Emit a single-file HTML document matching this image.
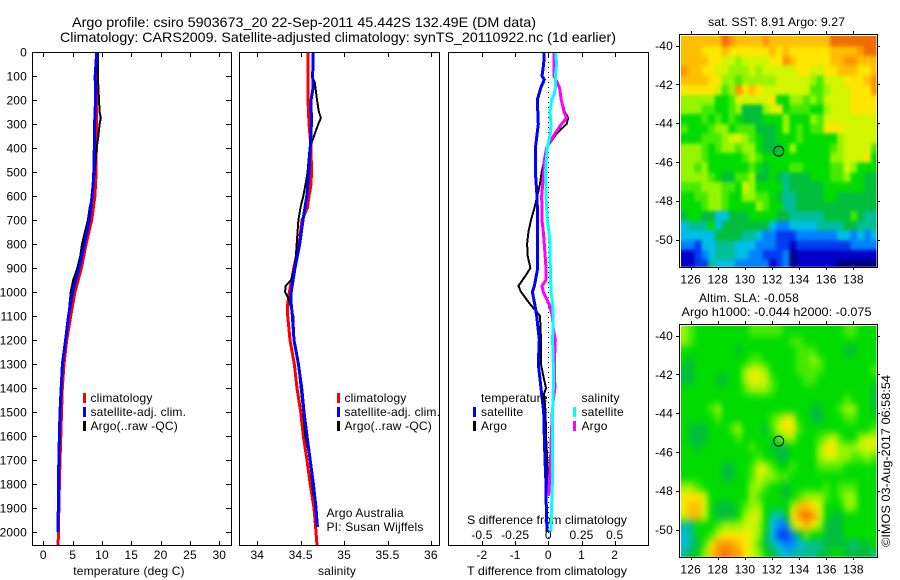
<!DOCTYPE html>
<html lang="en">
<head>
<meta charset="utf-8">
<title>Argo profile 5903673_20</title>
<style>
html,body{margin:0;padding:0;background:#fff;width:900px;height:580px;overflow:hidden}
svg{display:block}
text{font-family:"Liberation Sans",Arial,sans-serif;font-size:12px;fill:#000;letter-spacing:.18px}
.t{font-size:14px;letter-spacing:0}
.n{letter-spacing:0}
</style>
</head>
<body>
<svg id="fig" xmlns="http://www.w3.org/2000/svg" width="900" height="580" viewBox="0 0 900 580">
  <defs>
    <filter id="blur-sst" filterUnits="userSpaceOnUse" x="620" y="0" width="280" height="320" color-interpolation-filters="sRGB"><feGaussianBlur stdDeviation="1.5 1.8"/></filter>
    <filter id="blur-sla" filterUnits="userSpaceOnUse" x="620" y="280" width="280" height="300" color-interpolation-filters="sRGB"><feGaussianBlur stdDeviation="3 4"/></filter>
  </defs>
  <rect x="0" y="0" width="900" height="580" fill="#fff"/>
  <text class="t" x="72" y="27" textLength="464" lengthAdjust="spacingAndGlyphs">Argo profile: csiro 5903673_20 22-Sep-2011 45.442S 132.49E (DM data)</text>
  <text class="t" x="60" y="42" textLength="556" lengthAdjust="spacingAndGlyphs">Climatology: CARS2009. Satellite-adjusted climatology: synTS_20110922.nc (1d earlier)</text>

  <text x="129" y="575" text-anchor="middle">temperature (deg C)</text>
  <text x="337" y="575" text-anchor="middle">salinity</text>
  <text class="n" x="467" y="575" textLength="160" lengthAdjust="spacingAndGlyphs">T difference from climatology</text>
  <text class="n" x="467" y="524" textLength="160" lengthAdjust="spacingAndGlyphs">S difference from climatology</text>

  <g>
    <rect x="83" y="393" width="3" height="10" fill="#f00"/>
    <text x="90.5" y="402">climatology</text>
    <rect x="83" y="407" width="3" height="10" fill="#00f"/>
    <text x="90.5" y="416">satellite-adj. clim.</text>
    <rect x="83" y="421" width="3" height="10" fill="#000"/>
    <text x="90.5" y="430">Argo(..raw -QC)</text>
  </g>
  <g>
    <rect x="337" y="393" width="3" height="10" fill="#f00"/>
    <text x="344.5" y="402">climatology</text>
    <rect x="337" y="407" width="3" height="10" fill="#00f"/>
    <text x="344.5" y="416">satellite-adj. clim.</text>
    <rect x="337" y="421" width="3" height="10" fill="#000"/>
    <text x="344.5" y="430">Argo(..raw -QC)</text>
  </g>
  <text x="326.5" y="517">Argo Australia</text>
  <text x="326.5" y="531">PI: Susan Wijffels</text>

  <text class="n" x="708" y="26" textLength="137" lengthAdjust="spacingAndGlyphs">sat. SST: 8.91  Argo: 9.27</text>
  <text x="699" y="302">Altim. SLA: -0.058</text>
  <text class="n" x="681.5" y="316" textLength="190" lengthAdjust="spacingAndGlyphs">Argo h1000: -0.044  h2000: -0.075</text>
  <text class="n" transform="translate(890,547) rotate(-90)" textLength="172" lengthAdjust="spacingAndGlyphs">©IMOS 03-Aug-2017 06:58:54</text>
</svg>
<script>
// ---------- depth axis ----------
var depthTicks = [0,100,200,300,400,500,600,700,800,900,1000,1100,1200,1300,1400,1500,1600,1700,1800,1900,2000];

// ---------- temperature panel ----------
var tempTicks = [0,5,10,15,20,25,30];
var climTempDepth = [0,200,500,600,700,800,900,1000,1100,1200,1300,1400,1500,1600,1700,1800,1900,2000,2055];
var climTemp = [9.1,9.1,9.0,8.8,8.25,7.3,6.5,5.4,4.67,3.98,3.53,3.24,3.1,2.98,2.85,2.75,2.65,2.6,2.5];
var satTempDepth = [0,100,200,300,400,500,550,600,650,700,800,900,1000,1100,1200,1300,1400,1500,1600,1700,1800,1900,2000];
var satTemp = [9.1,8.85,8.9,8.75,8.7,8.6,8.5,8.3,8.1,7.85,7.0,6.1,5.0,4.3,3.8,3.25,3.05,2.85,2.75,2.65,2.6,2.55,2.5];
var argoTempDepth = [0,100,150,200,250,275,300,350,400,500,600,650,700,800,850,900,950,1000,1100,1200,1300,1400,1500,1600,1700,1750];
var argoTemp = [9.3,9.3,9.4,9.5,9.6,9.8,9.6,9.4,9.1,8.75,8.35,7.9,7.6,6.6,6.3,5.8,5.1,4.67,4.3,3.8,3.25,3.05,2.9,2.85,2.75,2.7];

// ---------- salinity panel ----------
var salTicks = [34,34.5,35,35.5,36];
var climSalDepth = [0,200,300,400,500,550,600,650,700,800,900,1000,1050,1100,1200,1300,1400,1500,1600,1700,1800,1900,2000,2055];
var climSal = [34.584,34.584,34.596,34.62,34.623,34.62,34.596,34.576,34.515,34.48,34.42,34.37,34.35,34.35,34.377,34.426,34.457,34.5,34.53,34.573,34.61,34.653,34.676,34.688];
var satSalDepth = [0,100,150,200,300,400,500,600,700,800,900,1000,1050,1100,1200,1300,1400,1500,1600,1700,1800,1900,1980];
var satSal = [34.642,34.638,34.642,34.62,34.623,34.61,34.596,34.57,34.527,34.488,34.434,34.39,34.39,34.404,34.423,34.473,34.511,34.538,34.573,34.61,34.646,34.676,34.692];
var argoSalDepth = [0,100,130,200,250,275,300,340,370,400,500,550,600,650,700,800,850,900,950,975,1000,1025,1100,1200,1300,1400,1500,1600,1700,1800,1850];
var argoSal = [34.634,34.634,34.664,34.688,34.71,34.733,34.703,34.664,34.634,34.603,34.58,34.557,34.53,34.497,34.473,34.454,34.445,34.426,34.39,34.326,34.32,34.357,34.415,34.426,34.473,34.5,34.53,34.553,34.61,34.633,34.645];

// ---------- difference panel ----------
var tDiffTicks = [-2,-1,0,1,2];
var sDiffTicks = [-0.5,-0.25,0,0.25,0.5];
var sDiffTickLabels = ["-0.5","-0.25","0","0.25","0.5"];
var satTDiffDepth = [0,50,100,115,150,200,300,400,500,600,700,800,900,975,1000,1050,1100,1200,1300,1400,1450,1500,1600,1700,1800,1900,2000];
var satTDiff = [-.13,-.14,-.19,-.12,-.23,-.33,-.30,-.39,-.39,-.34,-.32,-.32,-.32,-.42,-.48,-.41,-.35,-.27,-.30,-.22,-.18,-.14,-.12,-.10,-.07,-.06,-.04];
var argoTDiffDepth = [0,100,130,150,200,250,275,300,340,400,450,500,550,600,650,700,750,800,850,900,925,975,1000,1050,1075,1100,1200,1300,1350,1400,1425,1500,1600,1700,1800,1850];
var argoTDiff = [.17,.17,.28,.34,.40,.50,.60,.55,.25,-.05,-.12,-.20,-.25,-.33,-.42,-.52,-.60,-.64,-.62,-.54,-.65,-.90,-.82,-.55,-.40,-.25,-.22,-.22,-.15,-.07,-.13,-.08,-.07,-.03,0,.01];
var argoSDiffDepth = [0,100,130,150,200,250,275,300,340,400,450,500,600,700,750,800,900,950,975,1000,1050,1100,1150,1200,1300,1400,1450,1500,1600,1700,1800,1850];
var argoSDiff = [.0425,.0425,.07,.085,.098,.118,.138,.10,.05,-.0125,-.03,-.035,-.05,-.0475,-.0375,-.03,-.0175,-.0175,-.0475,-.0375,.005,.03,.0375,.0525,.045,.05,.0375,.03,.0225,.0175,.0075,.0025];
var satSDiffDepth = [0,50,100,150,175,200,250,300,340,400,450,500,600,700,750,800,900,1000,1050,1100,1200,1300,1400,1500,1600,1700,1800,1900,2000];
var satSDiff = [.055,.0625,.0525,.0525,.045,.025,.0125,.02,.015,-.0075,-.015,-.02,-.0175,-.0075,.005,.0125,.015,.02,.0325,.0375,.0325,.0375,.0375,.0325,.03,.0325,.03,.025,.02];

// ---------- maps (colour level per 0.5 degree cell, top row first) ----------
var lonTicks = [126,128,130,132,134,136,138];
var latTicks = [-40,-42,-44,-46,-48,-50];
var argoLon = 132.49;
var argoLat = -45.442;
var sstLevels = [
[12,12,12,12,12,12,14,13,12,12,12,12,13,12,12,12,12,12,12,12,12,12,14,14,14,14,14,14,14],
[12,12,12,11,11,11,12,11,11,11,11,11,11,12,11,12,11,11,11,11,11,11,12,12,12,12,13,14,14],
[12,12,12,12,11,11,10,10,9,10,10,10,10,11,11,13,12,11,11,11,11,11,12,12,13,13,12,12,12],
[13,12,12,11,11,10,10,9,9,9,10,9,10,10,10,10,10,11,11,10,10,11,11,12,12,12,11,11,12],
[12,12,12,12,11,11,9,9,8,9,9,9,9,9,10,10,10,10,10,9,8,10,10,10,11,11,11,12,13],
[11,11,11,11,11,10,8,9,13,11,12,11,10,10,10,10,10,10,10,8,8,9,10,10,10,11,11,11,13],
[9,9,9,9,9,7,7,8,10,10,10,10,10,11,7,7,9,9,8,9,8,10,10,10,10,11,11,11,11],
[9,9,9,8,8,7,7,8,9,6,6,6,9,10,11,7,8,8,8,7,7,9,10,10,10,11,11,11,11],
[7,7,7,8,7,8,7,8,7,6,6,6,7,7,7,9,7,7,7,9,8,10,10,10,10,10,10,10,10],
[8,7,7,7,8,9,9,7,8,8,8,6,6,6,7,9,7,8,7,8,8,11,11,11,10,10,10,10,10],
[7,7,7,8,8,8,9,10,10,9,8,7,6,6,7,7,7,8,7,7,7,7,7,9,10,10,10,10,10],
[9,9,9,8,7,8,9,9,8,9,9,7,6,6,6,7,9,7,7,7,7,7,8,9,10,10,10,10,8],
[9,9,9,8,7,7,7,7,7,8,9,8,7,7,7,7,7,7,7,7,7,7,9,9,10,10,10,11,7],
[9,9,8,9,7,7,7,7,7,7,8,7,6,7,7,7,8,8,7,7,7,7,8,8,10,9,7,7,7],
[9,9,9,9,8,7,6,6,8,8,9,6,6,7,6,5,6,6,6,7,7,7,8,8,9,7,7,6,6],
[8,8,8,9,9,9,8,8,7,10,9,7,7,7,7,5,6,6,6,6,6,7,7,7,7,7,7,6,6],
[7,7,8,8,9,9,8,7,7,9,9,8,8,7,6,5,5,6,6,6,6,7,7,6,6,6,6,6,6],
[7,7,7,8,9,9,8,7,7,7,7,9,8,7,7,5,5,6,6,6,6,6,6,6,6,6,6,6,6],
[6,7,7,6,6,4,4,6,6,6,7,7,7,7,6,6,5,5,5,5,5,6,6,6,6,8,6,5,5],
[4,5,5,5,7,4,6,6,6,6,6,6,6,4,3,3,4,4,4,4,5,5,5,5,6,6,5,5,5],
[4,4,4,4,4,6,6,6,6,5,5,4,3,3,2,2,2,3,3,3,3,3,3,4,4,3,4,3,4],
[3,3,2,4,4,5,5,5,4,4,4,3,3,3,2,2,1,2,2,2,2,2,2,2,2,3,3,3,3],
[1,1,2,3,4,5,5,5,4,4,3,3,2,2,2,3,0,1,1,1,1,1,1,1,1,1,1,1,1],
[1,1,2,2,5,4,4,4,3,3,3,3,3,1,2,3,0,1,1,1,1,1,1,0,0,0,0,0,0]
];
var slaLevels = [
[9,8,7,7,7,7,7,7,7,7,8,8,8,8,8,7,7,7,7,7,7,7,7,7,8,8,7,7,7],
[9,8,7,7,7,7,7,7,7,7,7,7,7,7,7,7,8,8,7,7,7,7,7,7,7,7,7,7,7],
[7,7,7,7,7,7,7,7,6,7,7,7,7,7,7,7,7,8,8,8,7,7,7,7,6,6,7,7,7],
[7,6,7,7,7,7,7,7,7,7,8,8,7,7,7,7,7,8,8,9,8,7,7,7,7,7,7,7,7],
[6,6,7,7,7,7,7,7,7,9,10,10,9,7,7,7,7,8,8,8,8,7,7,7,7,7,7,7,8],
[6,6,7,7,7,6,6,7,7,9,11,10,10,8,7,7,7,7,8,8,7,7,7,7,7,7,7,7,7],
[7,7,7,7,7,7,7,7,7,8,9,9,9,8,7,7,7,7,7,7,7,7,7,7,7,7,7,7,6],
[7,7,7,7,7,7,7,7,7,7,7,7,7,7,7,7,7,7,7,7,7,7,7,7,8,7,7,7,6],
[7,7,7,7,8,9,7,7,7,7,7,7,7,7,7,7,7,7,7,6,6,7,7,8,9,9,7,7,6],
[7,7,7,7,7,8,7,7,7,7,7,7,7,8,9,11,10,7,7,6,6,7,7,7,8,8,7,7,7],
[7,6,6,6,7,7,7,8,9,7,7,7,6,8,10,11,11,8,7,7,7,7,7,7,7,7,7,7,8],
[7,6,6,6,7,7,7,7,8,7,7,7,7,7,8,9,9,7,7,7,8,9,10,8,7,7,9,10,10],
[7,7,6,7,7,7,7,7,7,7,8,7,7,6,6,6,7,7,7,7,9,11,11,9,9,9,10,10,10],
[7,7,7,7,7,7,7,7,7,7,7,8,7,7,6,6,7,7,7,7,9,10,10,9,9,8,8,9,8],
[7,7,7,7,7,7,6,6,7,7,8,10,10,8,7,7,8,7,7,7,8,8,8,8,7,7,7,7,7],
[7,7,7,7,7,7,6,6,7,7,8,10,9,9,8,8,7,7,7,7,7,7,7,7,7,7,7,7,7],
[9,9,8,7,7,7,7,7,7,7,9,9,8,7,7,6,7,7,7,7,7,8,7,8,8,8,7,7,7],
[11,11,11,10,7,7,7,7,7,7,9,8,7,7,7,6,7,8,9,9,9,8,7,8,9,9,7,7,7],
[11,12,12,10,7,6,6,6,7,8,9,9,7,7,7,7,9,12,12,11,10,7,7,7,9,9,7,7,7],
[10,12,12,10,7,6,6,6,7,9,10,10,7,5,4,6,11,13,14,13,10,7,6,6,7,7,7,7,7],
[5,5,7,7,7,8,9,9,9,10,10,9,7,4,3,3,9,11,12,11,9,6,6,6,7,7,7,7,7],
[4,5,7,7,8,10,11,11,11,11,10,9,6,4,2,2,3,6,8,7,7,6,6,6,7,7,7,7,7],
[4,5,6,8,11,13,13,13,12,11,10,8,6,5,4,3,3,4,5,5,5,6,6,6,6,5,6,6,7],
[5,6,7,9,12,13,14,13,13,11,10,9,7,6,5,4,5,5,5,5,6,6,7,7,6,6,6,6,5]
];

// ---------- rendering ----------
var SVGNS = "http://www.w3.org/2000/svg";
var fig = document.getElementById("fig");
function make(tag, parent) {
  var el = document.createElementNS(SVGNS, tag);
  parent.appendChild(el);
  return el;
}
function line(parent, x1, y1, x2, y2, name) {
  var el = make("rect", parent);
  var left = Math.round(Math.min(x1, x2));
  var top = Math.round(Math.min(y1, y2));
  el.setAttribute("x", left);
  el.setAttribute("y", top);
  el.setAttribute("width", Math.max(1, Math.round(Math.abs(x2 - x1))));
  el.setAttribute("height", Math.max(1, Math.round(Math.abs(y2 - y1))));
  el.setAttribute("fill", "#000");
  
  
  return el;
}
function label(parent, x, y, str, anchor, name) {
  var el = make("text", parent);
  el.setAttribute("x", x);
  el.setAttribute("y", y);
  el.setAttribute("text-anchor", anchor);
  el.textContent = str;
  
  
  return el;
}
function box(parent, x0, y0, x1, y1, name) {
  var r = make("rect", parent);
  r.setAttribute("x", x0 + 0.5);
  r.setAttribute("y", y0 + 0.5);
  r.setAttribute("width", x1 - x0);
  r.setAttribute("height", y1 - y0);
  r.setAttribute("fill", "none");
  r.setAttribute("stroke", "#000");
  r.setAttribute("stroke-width", "1");
  r.setAttribute("shape-rendering", "crispEdges");
  
  
}
function depthY(d) { return 52 + 0.24 * d; }
function series(parent, depths, values, xFn, color, width, name) {
  var pts = [];
  for (var i = 0; i < depths.length; i++) {
    pts.push(xFn(values[i]).toFixed(1) + "," + depthY(depths[i]).toFixed(1));
  }
  var p = make("polyline", parent);
  p.setAttribute("points", pts.join(" "));
  p.setAttribute("fill", "none");
  p.setAttribute("stroke", color);
  p.setAttribute("stroke-width", width);
  p.setAttribute("stroke-linejoin", "miter");
  p.setAttribute("shape-rendering", "crispEdges");
  
  
}
var PT = 52, PB = 545;

// temperature panel
var tempX = function (v) { return 43.3 + v * 5.867; };
var g1 = make("g", fig);


series(g1, climTempDepth, climTemp, tempX, "#f00", 3, "temperature-climatology-line");
series(g1, argoTempDepth, argoTemp, tempX, "#000", 2, "temperature-argo-line");
series(g1, satTempDepth, satTemp, tempX, "#00f", 3, "temperature-satellite-line");
box(g1, 32, PT, 231, PB, "temperature-plot-frame");
tempTicks.forEach(function (t) {
  var x = tempX(t);
  line(g1, x, PT, x, PT + 5, "temperature-top-tick");
  line(g1, x, PB - 4, x, PB, "temperature-bottom-tick");
  label(g1, x, 559, String(t), "middle", "temperature-tick-label");
});
depthTicks.forEach(function (d) {
  var y = depthY(d);
  line(g1, 32, y, 37, y, "depth-left-tick");
  line(g1, 226, y, 231, y, "depth-right-tick");
  label(g1, 27, y + 4.5, String(d), "end", "depth-tick-label");
});

// salinity panel
var salX = function (v) { return 257.3 + (v - 34) * 86.8; };
var g2 = make("g", fig);


series(g2, climSalDepth, climSal, salX, "#f00", 3, "salinity-climatology-line");
series(g2, argoSalDepth, argoSal, salX, "#000", 2, "salinity-argo-line");
series(g2, satSalDepth, satSal, salX, "#00f", 3, "salinity-satellite-line");
box(g2, 239, PT, 439, PB, "salinity-plot-frame");
salTicks.forEach(function (t) {
  var x = salX(t);
  line(g2, x, PT, x, PT + 5, "salinity-top-tick");
  line(g2, x, PB - 4, x, PB, "salinity-bottom-tick");
  label(g2, x, 559, String(t), "middle", "salinity-tick-label");
});

// difference panel
var tDiffX = function (v) { return 548.3 + v * 33.2; };
var sDiffX = function (v) { return 548.3 + v * 132.8; };
var g3 = make("g", fig);


var zero = make("line", g3);
zero.setAttribute("x1", tDiffX(0));
zero.setAttribute("x2", tDiffX(0));
zero.setAttribute("y1", PT);
zero.setAttribute("y2", PB);
zero.setAttribute("stroke", "#000");
zero.setAttribute("stroke-width", "1");
zero.setAttribute("stroke-dasharray", "1 4");
zero.setAttribute("shape-rendering", "crispEdges");


series(g3, argoTDiffDepth, argoTDiff, tDiffX, "#000", 2, "t-difference-argo-line");
series(g3, satTDiffDepth, satTDiff, tDiffX, "#00f", 3, "t-difference-satellite-line");
series(g3, argoSDiffDepth, argoSDiff, sDiffX, "#f0f", 3, "s-difference-argo-line");
series(g3, satSDiffDepth, satSDiff, sDiffX, "#0ff", 3, "s-difference-satellite-line");
box(g3, 448, PT, 648, PB, "difference-plot-frame");
tDiffTicks.forEach(function (t) {
  var x = tDiffX(t);
  line(g3, x, PT, x, PT + 5, "t-difference-top-tick");
  line(g3, x, PB - 4, x, PB, "t-difference-bottom-tick");
  label(g3, x, 559, String(t), "middle", "t-difference-tick-label");
});
sDiffTicks.forEach(function (t, i) {
  label(g3, sDiffX(t), 539, sDiffTickLabels[i], "middle", "s-difference-tick-label");
});
[["temperature", 481], ["salinity", 581.5]].forEach(function (h) {
  label(g3, h[1], 402, h[0], "start", "difference-legend-heading");
});
[[481, 473, "#00f", "#000"], [581.5, 573, "#0ff", "#f0f"]].forEach(function (c) {
  var a = make("rect", g3);
  a.setAttribute("x", c[1]);
  a.setAttribute("y", 407);
  a.setAttribute("width", 3);
  a.setAttribute("height", 10);
  a.setAttribute("fill", c[2]);
  
  
  var b = make("rect", g3);
  b.setAttribute("x", c[1]);
  b.setAttribute("y", 421);
  b.setAttribute("width", 3);
  b.setAttribute("height", 10);
  b.setAttribute("fill", c[3]);
  
  
  label(g3, c[0], 416, "satellite", "start", "difference-legend-satellite-label");
  label(g3, c[0], 430, "Argo", "start", "difference-legend-argo-label");
});

// maps
var palette = ["#000082","#0000c8","#003cf0","#0082ff","#00bee6","#00be96","#00be3c","#00dc00","#46eb00","#96f500","#d2f500","#ffe600","#ffbe00","#ff9600","#f06e00"];
function colorOf(level) {
  var i = Math.max(0, Math.min(palette.length - 1, Math.round(level)));
  return palette[i];
}
function drawMap(levels, top, name, cellName, clipId, filterId) {
  var lonX = function (lon) { return 690.7 + (lon - 126) * 13.56; };
  var latY = function (lat) { return top + 11.5 + (-40 - lat) * 19.4; };
  var g = make("g", fig);
  
  
  var clip = make("clipPath", g);
  clip.setAttribute("id", clipId);
  var cr = make("rect", clip);
  cr.setAttribute("x", 681);
  cr.setAttribute("y", top + 2);
  cr.setAttribute("width", 195.5);
  cr.setAttribute("height", 230.7);
  var clipped = make("g", g);
  clipped.setAttribute("clip-path", "url(#" + clipId + ")");
  var cells = make("g", clipped);
  cells.setAttribute("filter", "url(#" + filterId + ")");
  cells.setAttribute("shape-rendering", "crispEdges");
  
  
  var nRows = levels.length;
  levels.forEach(function (row, r) {
    row.forEach(function (v, c) {
      var lon = 125.28 + c * 0.5;
      var lat = -39.54 - r * 0.5;
      // border cells are extended outward so smoothing does not fade at the map edge
      var x = lonX(lon), y = latY(lat), w = 7.2, h = 10.1;
      if (c === 0) { x -= 30; w += 30; }
      if (c === row.length - 1) { w += 30; }
      if (r === 0) { y -= 30; h += 30; }
      if (r === nRows - 1) { h += 30; }
      var cell = make("rect", cells);
      cell.setAttribute("x", x.toFixed(2));
      cell.setAttribute("y", y.toFixed(2));
      cell.setAttribute("width", w);
      cell.setAttribute("height", h);
      cell.setAttribute("fill", colorOf(v));
      
      
    });
  });
  var bot = top + 233;
  box(g, 679, top, 877, bot, name + "-frame");
  lonTicks.forEach(function (t) {
    var x = lonX(t);
    line(g, x, top - 3, x, top, "longitude-top-tick");
    line(g, x, bot, x, bot + 3, "longitude-bottom-tick");
    label(g, x, bot + 16.5, String(t), "middle", "longitude-tick-label");
  });
  latTicks.forEach(function (t) {
    var y = latY(t);
    line(g, 676, y, 679, y, "latitude-left-tick");
    line(g, 877, y, 880, y, "latitude-right-tick");
    label(g, 673, y + 4.5, String(t), "end", "latitude-tick-label");
  });
  var m = make("circle", g);
  m.setAttribute("cx", lonX(argoLon).toFixed(1));
  m.setAttribute("cy", latY(argoLat).toFixed(1));
  m.setAttribute("r", 5);
  m.setAttribute("fill", "none");
  m.setAttribute("stroke", "#000");
  m.setAttribute("stroke-width", "1");
  
  
}
drawMap(sstLevels, 34, "sst-map", "sst-cell", "clip-sst", "blur-sst");
drawMap(slaLevels, 324, "sla-map", "sla-cell", "clip-sla", "blur-sla");
</script>
</body>
</html>
